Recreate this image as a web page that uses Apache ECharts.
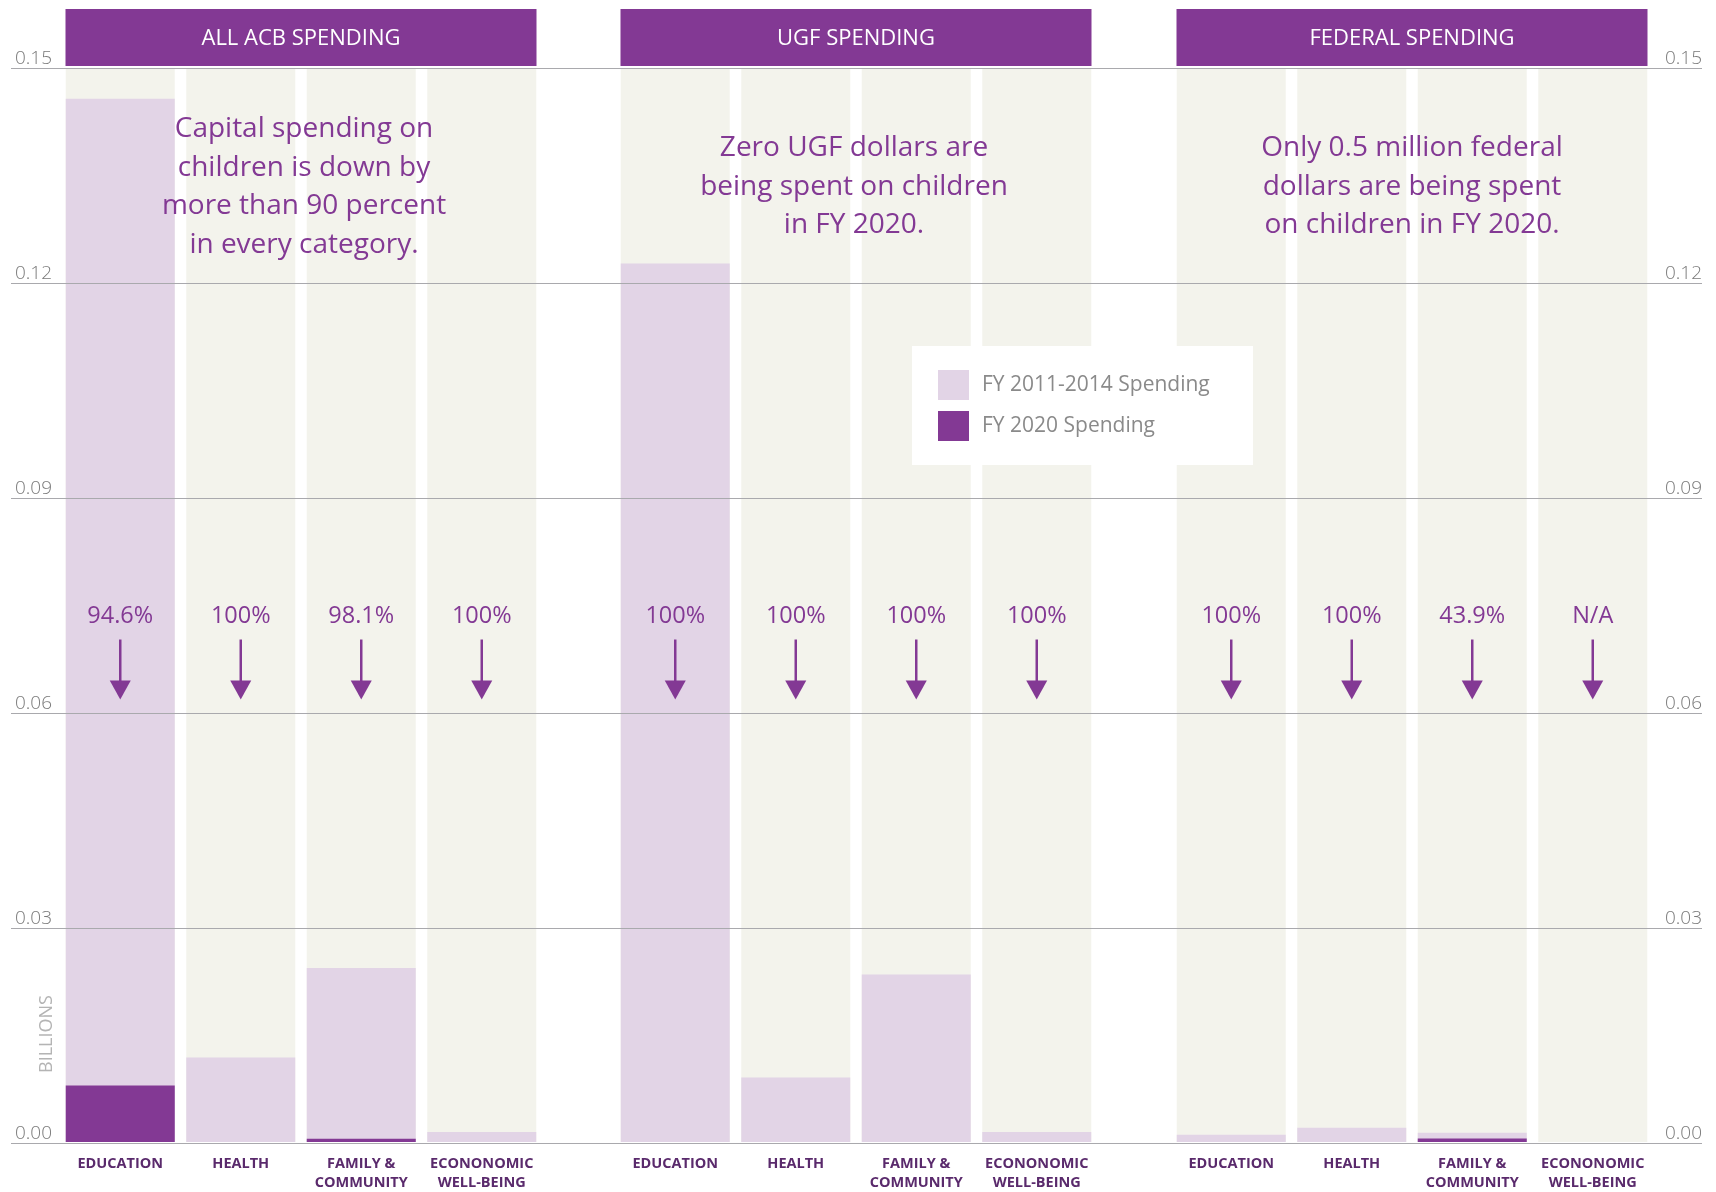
<!DOCTYPE html>
<html>
<head>
<meta charset="utf-8">
<script src="https://cdn.jsdelivr.net/npm/echarts@6/dist/echarts.min.js"></script>
<style>
  html, body { margin: 0; padding: 0; background: #ffffff; }
  #chart { width: 1716px; height: 1192px; }
</style>
</head>
<body>
<div id="chart"></div>
<script>
// Spending categories shared by the three panels
const categories = ['EDUCATION', 'HEALTH', 'FAMILY &\nCOMMUNITY', 'ECONONOMIC\nWELL-BEING'];
const panelTitles = ['ALL ACB SPENDING', 'UGF SPENDING', 'FEDERAL SPENDING'];
const seriesNames = ['FY 2011-2014 Spending', 'FY 2020 Spending'];

// Capital spending on children, billions of dollars
const acbBase = [0.1457, 0.0118, 0.0243, 0.0014];
const acb2020 = [0.0079, 0, 0.00046, 0];
const ugfBase = [0.1227, 0.0090, 0.0234, 0.0014];
const ugf2020 = [0, 0, 0, 0];
const fedBase = [0.0010, 0.0020, 0.0013, 0];
const fed2020 = [0, 0, 0.0005, 0];

// Percent decrease from FY 2011-2014 to FY 2020
const acbChange = ['94.6%', '100%', '98.1%', '100%'];
const ugfChange = ['100%', '100%', '100%', '100%'];
const fedChange = ['100%', '100%', '43.9%', 'N/A'];

// Panel call-outs
const panelNotes = [
  'Capital spending on\nchildren is down by\nmore than 90 percent\nin every category.',
  'Zero UGF dollars are\nbeing spent on children\nin FY 2020.',
  'Only 0.5 million federal\ndollars are being spent\non children in FY 2020.'
];

// Value axis
const yMin = 0, yMax = 0.15, yStep = 0.03;
// Level where the decrease arrows point to
const arrowTip = 0.0618;

const PURPLE = '#833994';
const LAVENDER = '#e2d4e6';
const BEIGE = '#f3f3ec';
const FONT = '"Open Sans", Lato, sans-serif';

const panels = [
  { base: acbBase, now: acb2020, change: acbChange, left: 60 },
  { base: ugfBase, now: ugf2020, change: ugfChange, left: 615 },
  { base: fedBase, now: fed2020, change: fedChange, left: 1171 }
];
const panelWidth = 482;
const plotTop = 68, plotBottom = 49;

const chart = echarts.init(document.getElementById('chart'), null, { renderer: 'canvas' });

const grid = [], xAxis = [], yAxis = [], series = [], graphic = [];

panels.forEach((p, i) => {
  grid.push({ left: p.left, top: plotTop, width: panelWidth, bottom: plotBottom });
  xAxis.push({
    gridIndex: i, type: 'category', data: categories,
    axisLine: { show: false }, axisTick: { show: false },
    axisLabel: {
      interval: 0, margin: 12, color: '#5a2a6c', fontFamily: FONT,
      fontWeight: 'bold', fontSize: 14.5, lineHeight: 19
    }
  });
  yAxis.push({ gridIndex: i, type: 'value', min: yMin, max: yMax, interval: yStep, show: false });

  series.push({
    name: seriesNames[0], type: 'bar', xAxisIndex: i, yAxisIndex: i,
    data: p.base, barWidth: 109, barGap: '-100%',
    itemStyle: { color: LAVENDER },
    showBackground: true, backgroundStyle: { color: BEIGE },
    silent: true, z: 2
  });
  series.push({
    name: seriesNames[1], type: 'bar', xAxisIndex: i, yAxisIndex: i,
    data: p.now, barWidth: 109, barGap: '-100%',
    itemStyle: { color: PURPLE }, silent: true, z: 3
  });
  // Decrease label with a downward arrow above each category
  series.push({
    type: 'custom', xAxisIndex: i, yAxisIndex: i, z: 6, silent: true,
    data: categories.map((c, k) => [k, arrowTip]),
    renderItem: (params, api) => {
      const tip = api.coord([api.value(0), api.value(1)]);
      const x = tip[0], y = tip[1];
      return {
        type: 'group',
        children: [
          { type: 'line', shape: { x1: x, y1: y - 60, x2: x, y2: y - 15 },
            style: { stroke: PURPLE, lineWidth: 2.5 } },
          { type: 'polygon', shape: { points: [[x - 10.5, y - 19], [x + 10.5, y - 19], [x, y]] },
            style: { fill: PURPLE } },
          { type: 'text', x: x, y: y - 83,
            style: { text: p.change[params.dataIndex], fill: PURPLE, fontFamily: FONT,
                     fontSize: 23.5, align: 'center', verticalAlign: 'middle' } }
        ]
      };
    }
  });

  // Panel header bar
  graphic.push({
    type: 'group', left: p.left + 5.5, top: 9,
    children: [
      { type: 'rect', shape: { x: 0, y: 0, width: 471, height: 57 }, style: { fill: PURPLE } },
      { type: 'text', x: 235.5, y: 30,
        style: { text: panelTitles[i], fill: '#ffffff', fontFamily: FONT, fontSize: 22,
                 align: 'center', verticalAlign: 'middle' } }
    ]
  });
});

// Call-out texts
const noteStyle = { fill: PURPLE, fontFamily: FONT, fontSize: 28, lineHeight: 38.5, align: 'center' };
graphic.push(
  { type: 'text', x: 304, y: 110, z: 10, style: Object.assign({ text: panelNotes[0] }, noteStyle) },
  { type: 'text', x: 854, y: 129, z: 10, style: Object.assign({ text: panelNotes[1] }, noteStyle) },
  { type: 'text', x: 1412, y: 129, z: 10, style: Object.assign({ text: panelNotes[2] }, noteStyle) },
  { type: 'text', x: 47, y: 1034, rotation: Math.PI / 2, z: 10,
    style: { text: 'BILLIONS', fill: '#b4b4b4', fontFamily: FONT, fontSize: 18,
             align: 'center', verticalAlign: 'middle' } },
  // White panel behind the legend
  { type: 'rect', left: 912, top: 346, z: 7, silent: true,
    shape: { width: 341, height: 119 }, style: { fill: '#ffffff' } }
);

// Full-width grid carrying the shared value scale and its grid lines
grid.push({ left: 11, right: 14, top: plotTop, bottom: plotBottom });
xAxis.push({ gridIndex: 3, type: 'value', show: false });
const tickLabel = {
  inside: true, margin: 4, verticalAlign: 'bottom', padding: [0, 0, 0, 0],
  color: '#7a7a7a', fontFamily: FONT, fontSize: 19, fontWeight: 300,
  formatter: v => v.toFixed(2)
};
yAxis.push({
  gridIndex: 3, type: 'value', position: 'left', min: yMin, max: yMax, interval: yStep, z: 10,
  axisLine: { show: false }, axisTick: { show: false },
  axisLabel: Object.assign({}, tickLabel),
  splitLine: { show: true, lineStyle: { color: '#a9a9ad', width: 1.2 } }
});
yAxis.push({
  gridIndex: 3, type: 'value', position: 'right', min: yMin, max: yMax, interval: yStep, z: 10,
  axisLine: { show: false }, axisTick: { show: false },
  axisLabel: Object.assign({}, tickLabel, { margin: 0 }),
  splitLine: { show: false }
});

chart.setOption({
  animation: false,
  backgroundColor: '#ffffff',
  grid, xAxis, yAxis, series, graphic,
  legend: {
    data: seriesNames, orient: 'vertical', left: 912, top: 346,
    padding: [24, 20, 23, 26],
    itemWidth: 31, itemHeight: 30, itemGap: 11, icon: 'rect',
    selectedMode: false, z: 8,
    textStyle: { color: '#8a8a8a', fontFamily: FONT, fontSize: 21, padding: [0, 0, 0, 8] }
  }
});
</script>
</body>
</html>
